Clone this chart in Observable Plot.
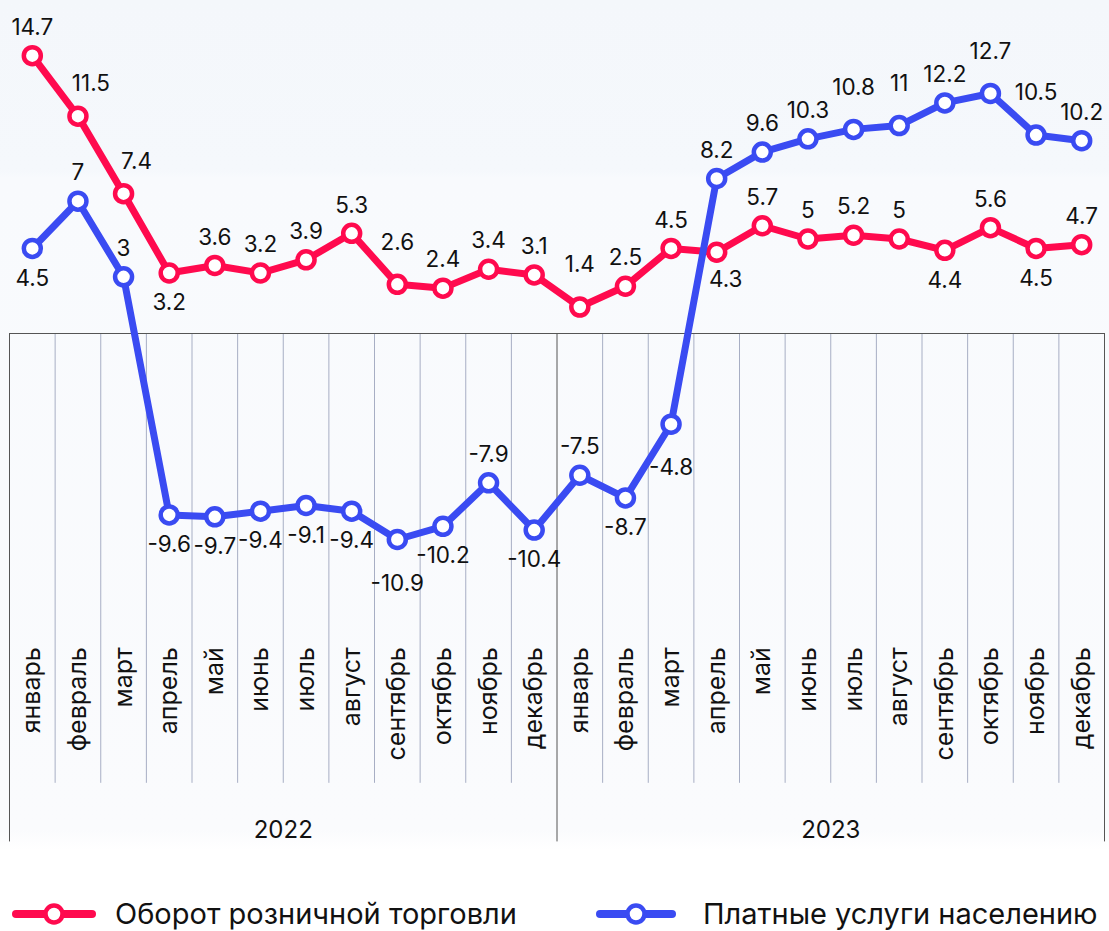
<!DOCTYPE html>
<html>
<head>
<meta charset="utf-8">
<script src="https://cdn.jsdelivr.net/npm/d3@7"></script>
<script src="https://cdn.jsdelivr.net/npm/@observablehq/plot@0.6"></script>
<style>
  html, body { margin: 0; padding: 0; }
  body {
    width: 1109px;
    background: linear-gradient(#f4f7fb 0px, #f5f8fc 170px, #f8fafd 178px, #fafbfd 830px, #ffffff 850px, #ffffff 931px);
    font-family: Inter, "Noto Sans", sans-serif;
  }
  #chart svg { display: block; }
  .legend { position: relative; width: 1109px; height: 71px; }
  .legend .item { position: absolute; top: 38px; display: flex; align-items: center; height: 32px; }
  .legend .item svg { display: block; }
  .legend .item span { font-size: 29px; line-height: 1.05; color: #111; white-space: nowrap; }
</style>
</head>
<body>
<div id="chart"></div>
<div class="legend" id="legend"></div>
<script>
// ---- data ----
const months = ["январь", "февраль", "март", "апрель", "май", "июнь", "июль", "август", "сентябрь", "октябрь", "ноябрь", "декабрь"];
const years = ["2022", "2023"];
const seriesNames = ["Оборот розничной торговли", "Платные услуги населению"];
const retail = [14.7, 11.5, 7.4, 3.2, 3.6, 3.2, 3.9, 5.3, 2.6, 2.4, 3.4, 3.1,
                1.4, 2.5, 4.5, 4.3, 5.7, 5, 5.2, 5, 4.4, 5.6, 4.5, 4.7];
const services = [4.5, 7, 3, -9.6, -9.7, -9.4, -9.1, -9.4, -10.9, -10.2, -7.9, -10.4,
                  -7.5, -8.7, -4.8, 8.2, 9.6, 10.3, 10.8, 11, 12.2, 12.7, 10.5, 10.2];
// label placement codes: t = above, T = far above, r = above right, b = below, B = far below, s = below right
const retailLabelPos = ["t","r","r","b","t","t","t","t","T","t","t","t",
                        "T","t","t","s","t","t","t","t","b","t","b","t"];
const servicesLabelPos = ["b","t","t","b","b","b","b","b","B","b","t","b",
                          "t","b","B","t","t","t","T","T","t","T","T","t"];

// ---- styling ----
const RED = "#ff0a4e";
const BLUE = "#3a4bf2";
const offsets = {t: [0, -28], T: [0, -42], r: [13, -32], b: [0, 30], B: [0, 44], s: [9, 28]};

const idx = d3.range(months.length * years.length);
const rows = idx.map(i => ({
  i,
  month: months[i % 12],
  year: years[Math.floor(i / 12)],
  retail: retail[i],
  services: services[i],
  rp: retailLabelPos[i],
  sp: servicesLabelPos[i]
}));

const labelMarks = [];
for (const [code, [dx, dy]] of Object.entries(offsets)) {
  labelMarks.push(Plot.text(rows.filter(d => d.rp === code), {
    x: "i", y: "retail", text: d => String(d.retail), dx, dy, fill: "#111"
  }));
  labelMarks.push(Plot.text(rows.filter(d => d.sp === code), {
    x: "i", y: "services", text: d => String(d.services), dx, dy, fill: "#111"
  }));
}

const yearStarts = years.map((y, j) => j * 12);
const chart = Plot.plot({
  width: 1109,
  height: 860,
  marginLeft: 9,
  marginRight: 5,
  marginTop: 0,
  marginBottom: 0,
  x: {domain: [-0.5, idx.length - 0.5], axis: null},
  y: {domain: [-27, 16], range: [843.3, 30.6], axis: null},
  style: {background: "transparent", fontFamily: "Inter, 'Noto Sans', sans-serif", fontSize: "22.5px", color: "#111", overflow: "visible"},
  marks: [
    Plot.ruleX(idx.filter(i => i % 12 !== 0), {x: i => i - 0.5, y1: 0, y2: -23.8, stroke: "#a7aec4", strokeWidth: 1}),
    Plot.ruleX([...yearStarts, idx.length], {x: i => i - 0.5, y1: 0, y2: -26.9, stroke: "#555", strokeWidth: 1}),
    Plot.ruleY([0], {x1: -0.5, x2: idx.length - 0.5, stroke: "#555", strokeWidth: 1}),
    Plot.text(rows, {x: "i", y: -16.6, text: "month", rotate: -90, textAnchor: "end", lineAnchor: "middle", fontSize: 25, fill: "#111"}),
    Plot.text(years, {x: (d, j) => yearStarts[j] + 5.5, y: -26.3, text: d => d, fontSize: 24, fill: "#111"}),
    Plot.line(rows, {x: "i", y: "retail", stroke: RED, strokeWidth: 7}),
    Plot.dot(rows, {x: "i", y: "retail", r: 8.5, fill: "white", stroke: RED, strokeWidth: 4.5}),
    Plot.line(rows, {x: "i", y: "services", stroke: BLUE, strokeWidth: 7}),
    Plot.dot(rows, {x: "i", y: "services", r: 8.5, fill: "white", stroke: BLUE, strokeWidth: 4.5}),
    ...labelMarks
  ]
});
document.getElementById("chart").appendChild(chart);

// ---- legend ----
const legend = document.getElementById("legend");
const legendItems = [
  {name: seriesNames[0], color: RED, left: 12, w: 84, gap: 19},
  {name: seriesNames[1], color: BLUE, left: 596, w: 80, gap: 27}
];
for (const it of legendItems) {
  const div = document.createElement("div");
  div.className = "item";
  div.style.left = it.left + "px";
  div.innerHTML = `<svg width="${it.w}" height="28" viewBox="0 0 ${it.w} 28">
      <line x1="4" x2="${it.w - 4}" y1="14" y2="14" stroke="${it.color}" stroke-width="8" stroke-linecap="round"/>
      <circle cx="${it.w / 2}" cy="14" r="8.5" fill="white" stroke="${it.color}" stroke-width="4.5"/>
    </svg><span style="margin-left:${it.gap}px">${it.name}</span>`;
  legend.appendChild(div);
}
</script>
</body>
</html>
